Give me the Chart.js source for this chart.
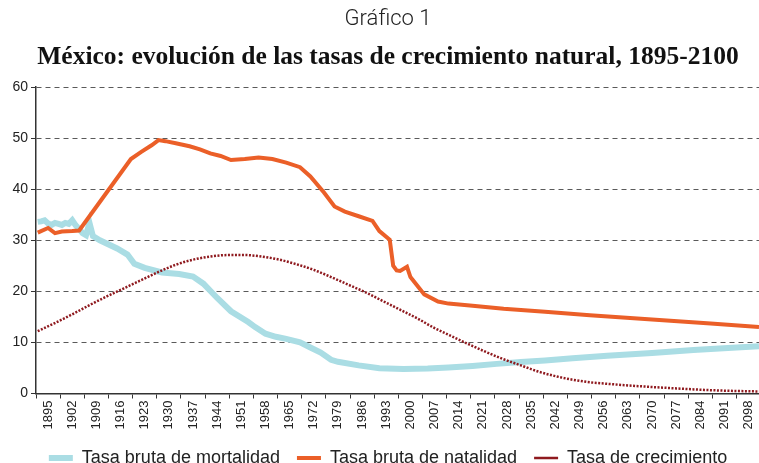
<!DOCTYPE html>
<html lang="es">
<head>
<meta charset="utf-8">
<title>México: evolución de las tasas de crecimiento natural, 1895-2100</title>
<script src="https://cdn.jsdelivr.net/npm/chart.js@4.4.1/dist/chart.umd.min.js"></script>
<style>
  html, body { margin: 0; padding: 0; background: #fff; }
  #wrap { width: 759px; height: 463px; }
</style>
</head>
<body>
<div id="wrap"><canvas id="grafico" width="759" height="463"></canvas></div>
<script>
const serieNombres = ['Tasa bruta de mortalidad', 'Tasa bruta de natalidad', 'Tasa de crecimiento'];

// tasa bruta de mortalidad (por mil)
const aniosMortalidad = [1895, 1896, 1897, 1898, 1899, 1900, 1901, 1902, 1903, 1904, 1905, 1906, 1907, 1908, 1909, 1910, 1911, 1913,
  1918, 1921, 1923, 1926, 1931, 1936, 1940, 1943, 1947, 1951, 1956, 1958, 1961, 1964, 1967, 1971, 1974, 1977, 1980, 1982,
  1988, 1994, 2001, 2008, 2014, 2021, 2028, 2035, 2042, 2050, 2060, 2073, 2085, 2095, 2104];
const mortalidad = [33.6, 33.7, 33.9, 33.3, 33.0, 33.4, 33.2, 33.0, 33.4, 33.2, 33.9, 32.9, 32.2, 31.4, 31.0, 33.4, 30.8, 30.0,
  28.4, 27.2, 25.4, 24.6, 23.7, 23.4, 22.9, 21.5, 18.7, 16.1, 14.0, 13.0, 11.7, 11.1, 10.7, 10.0, 9.0, 8.0, 6.6, 6.2,
  5.5, 4.95, 4.8, 4.9, 5.1, 5.4, 5.8, 6.15, 6.45, 6.9, 7.4, 7.95, 8.5, 8.9, 9.25];

// tasa bruta de natalidad (por mil)
const aniosNatalidad = [1895, 1898, 1900, 1902, 1905, 1907, 1922, 1925, 1928, 1930, 1932, 1935, 1939, 1942, 1945, 1948, 1951,
  1955, 1959, 1963, 1967, 1971, 1974, 1978, 1981, 1984, 1988, 1992, 1994, 1997, 1998, 1999, 2000, 2002, 2003, 2007, 2011,
  2014, 2021, 2030, 2042, 2055, 2073, 2090, 2104];
const natalidad = [31.5, 32.4, 31.4, 31.7, 31.8, 31.9, 45.9, 47.3, 48.6, 49.6, 49.4, 49.0, 48.4, 47.8, 47.0, 46.5, 45.7,
  45.9, 46.2, 45.9, 45.2, 44.3, 42.5, 39.3, 36.6, 35.6, 34.7, 33.8, 31.8, 30.1, 25.0, 24.1, 24.0, 24.8, 22.8, 19.4, 18.0,
  17.6, 17.2, 16.6, 16.0, 15.3, 14.5, 13.7, 13.0];

// tasa de crecimiento
const aniosCrecimiento = [1895, 1900, 1905, 1910, 1915, 1920, 1925, 1930, 1935, 1940, 1945, 1950, 1955, 1960, 1965, 1970,
  1975, 1980, 1985, 1990, 1995, 2000, 2005, 2010, 2015, 2020, 2025, 2030, 2035, 2040, 2045, 2050, 2055, 2060, 2070, 2080,
  2090, 2100, 2104];
const crecimiento = [12.2, 13.8, 15.5, 17.3, 19.0, 20.6, 22.2, 23.8, 25.2, 26.2, 26.8, 27.1, 27.1, 26.8, 26.2, 25.3,
  24.2, 22.8, 21.3, 19.8, 18.1, 16.4, 14.7, 12.8, 11.2, 9.6, 8.1, 6.7, 5.5, 4.3, 3.4, 2.7, 2.2, 1.9, 1.4, 1.0,
  0.65, 0.45, 0.4];

const etiquetasAnio = ['1895', '1902', '1909', '1916', '1923', '1930', '1937', '1944', '1951', '1958', '1965', '1972',
  '1979', '1986', '1993', '2000', '2007', '2014', '2021', '2028', '2035', '2042', '2049', '2056', '2063', '2070', '2077',
  '2084', '2091', '2098'];

function puntos(anios, valores) {
  return anios.map((a, i) => ({ x: a, y: valores[i] }));
}

Chart.defaults.font.family = "'Liberation Sans', Arial, sans-serif";
Chart.defaults.color = '#222';

new Chart(document.getElementById('grafico'), {
  type: 'line',
  data: {
    datasets: [
      {
        label: serieNombres[0],
        data: puntos(aniosMortalidad, mortalidad),
        borderColor: '#aadde4',
        backgroundColor: '#aadde4',
        borderWidth: 6,
        pointRadius: 0,
        tension: 0,
        order: 3
      },
      {
        label: serieNombres[1],
        data: puntos(aniosNatalidad, natalidad),
        borderColor: '#eb5f28',
        backgroundColor: '#eb5f28',
        borderWidth: 4,
        pointRadius: 0,
        tension: 0,
        order: 2
      },
      {
        label: serieNombres[2],
        data: puntos(aniosCrecimiento, crecimiento),
        borderColor: '#8f1a1f',
        backgroundColor: '#8f1a1f',
        borderWidth: 2.5,
        borderDash: [2, 1.5],
        pointRadius: 0,
        cubicInterpolationMode: 'monotone',
        order: 1
      }
    ]
  },
  options: {
    responsive: false,
    animation: false,
    // right side runs past the canvas so titles and legend centre where the original does
    layout: { padding: { left: 0, right: -17, top: 0, bottom: -14 } },
    plugins: {
      title: {
        display: true,
        text: 'Gráfico 1',
        color: '#222',
        font: { family: "Roboto, 'Liberation Sans', sans-serif", size: 22, weight: 300 },
        padding: { top: 6, bottom: 4 }
      },
      subtitle: {
        display: true,
        text: 'México: evolución de las tasas de crecimiento natural, 1895-2100',
        color: '#111',
        font: { family: "'Liberation Serif', serif", size: 25.5, weight: 'bold' },
        padding: { top: 6, bottom: 14 }
      },
      legend: {
        position: 'bottom',
        labels: {
          font: { size: 18 },
          color: '#222',
          usePointStyle: true,
          pointStyle: 'line',
          pointStyleWidth: 24,
          padding: 17,
          sort: (a, b) => a.datasetIndex - b.datasetIndex
        }
      },
      tooltip: { enabled: false }
    },
    scales: {
      x: {
        type: 'linear',
        min: 1894.5,
        max: 2104,
        afterBuildTicks: s => { s.ticks = etiquetasAnio.map(a => ({ value: Number(a) - 0.5 })); },
        afterFit: s => { s.height = 38.5; },
        grid: { drawOnChartArea: false, drawTicks: true, tickLength: 5, tickColor: '#333', color: '#333' },
        border: { color: '#333', width: 1.5 },
        ticks: {
          autoSkip: false,
          minRotation: 90,
          maxRotation: 90,
          labelOffset: 12,
          padding: 2,
          font: { size: 13 },
          color: '#222',
          callback: (v, i) => etiquetasAnio[i]
        }
      },
      y: {
        min: 0,
        max: 60,
        afterFit: s => { s.width = 36; },
        ticks: { stepSize: 10, font: { size: 14 }, color: '#222', padding: 3 },
        grid: {
          color: ctx => ctx.tick.value === 0 ? 'rgba(0,0,0,0)' : '#5a5a5a',
          tickColor: '#333',
          tickLength: 5,
          tickBorderDash: []
        },
        border: { color: '#333', width: 1.5, dash: [5, 4] }
      }
    }
  }
});
</script>
</body>
</html>
